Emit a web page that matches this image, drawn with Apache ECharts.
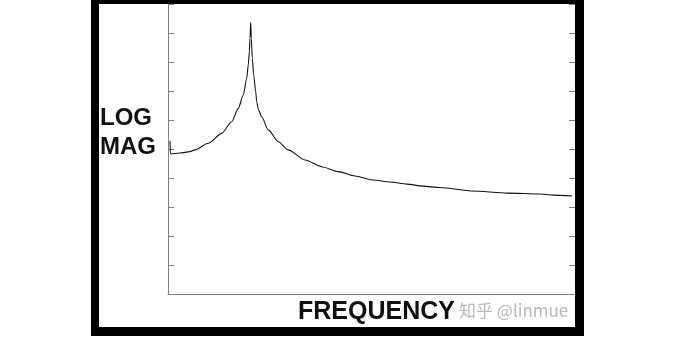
<!DOCTYPE html>
<html>
<head>
<meta charset="utf-8">
<script src="https://cdn.jsdelivr.net/npm/echarts@6/dist/echarts.min.js"></script>
<style>html,body{margin:0;padding:0;background:#fff;}#c{width:676px;height:341px;}</style>
</head>
<body>
<div id="c"></div>
<script>
// frequency (0..100, arbitrary linear units) and log magnitude (0..10 axis units)
const freq = [0.49, 0.61, 2.95, 5.41, 6.63, 9.90, 13.19, 15.65, 17.27, 18.50, 19.34, 19.73, 19.98, 20.15, 20.32, 20.47, 20.71, 21.06, 21.55, 21.79, 22.24, 23.02, 24.64, 27.10, 29.56, 33.66, 37.76, 41.84, 45.95, 50.44, 54.5, 58.7, 62.7, 66.8, 74.9, 83.3, 91.4, 94.6, 99.3];
const logMag = [5.28, 4.83, 4.86, 4.91, 4.97, 5.20, 5.54, 5.94, 6.40, 6.86, 7.44, 7.90, 8.36, 8.82, 9.37, 8.82, 8.13, 7.55, 6.97, 6.63, 6.34, 6.11, 5.66, 5.25, 4.97, 4.62, 4.39, 4.22, 4.07, 3.93, 3.86, 3.79, 3.72, 3.67, 3.55, 3.48, 3.45, 3.41, 3.38];
const yTicks = [0, 1, 2, 3, 4, 5, 6, 7, 8, 9, 10];
const yLabel = ['LOG', 'MAG'];
const xLabel = 'FREQUENCY';
const watermark = '知乎 @linmue';

const chart = echarts.init(document.getElementById('c'));
const pts = freq.map((f, i) => [f, logMag[i]]);
const tickStyle = {show: true, inside: true, length: 6, lineStyle: {color: '#808080', width: 1}};
chart.setOption({
  animation: false,
  backgroundColor: '#fff',
  grid: {left: 168, right: 101, top: 4, bottom: 47},
  xAxis: {type: 'value', min: 0, max: 100,
    axisLine: {show: true, onZero: false, lineStyle: {color: '#808080', width: 1}},
    axisTick: {show: false}, axisLabel: {show: false}, splitLine: {show: false}},
  yAxis: [
    {type: 'value', min: yTicks[0], max: yTicks[yTicks.length - 1], interval: 1, position: 'left',
      axisLine: {show: true, lineStyle: {color: '#808080', width: 1}},
      axisTick: tickStyle, axisLabel: {show: false}, splitLine: {show: false}},
    {type: 'value', min: yTicks[0], max: yTicks[yTicks.length - 1], interval: 1, position: 'right',
      axisLine: {show: false},
      axisTick: tickStyle, axisLabel: {show: false}, splitLine: {show: false}}
  ],
  series: [{type: 'line', data: pts, showSymbol: false, smooth: 0.25, smoothMonotone: 'x',
    lineStyle: {color: '#111', width: 1.1}}],
  graphic: [
    {type: 'rect', shape: {x: 91, y: 0, width: 8, height: 336}, style: {fill: '#000'}, z: 100},
    {type: 'rect', shape: {x: 575, y: 0, width: 9, height: 336}, style: {fill: '#000'}, z: 100},
    {type: 'rect', shape: {x: 91, y: 0, width: 493, height: 4}, style: {fill: '#000'}, z: 100},
    {type: 'rect', shape: {x: 91, y: 327, width: 493, height: 9}, style: {fill: '#000'}, z: 100},
    {type: 'text', left: 100, top: 104, z: 101,
      style: {text: yLabel.join('\n'), fontFamily: 'Liberation Sans', fontWeight: 'bold', fontSize: 24, lineHeight: 29, fill: '#111'}},
    {type: 'text', left: 298, top: 300, z: 101,
      style: {text: xLabel, fontFamily: 'Liberation Sans', fontWeight: 'bold', fontSize: 25, fill: '#111'}},
    {type: 'text', left: 459, top: 302, z: 101,
      style: {text: watermark, fontFamily: 'Noto Sans CJK SC', fontSize: 17, fill: '#b8b8b8'}}
  ]
});
</script>
</body>
</html>
